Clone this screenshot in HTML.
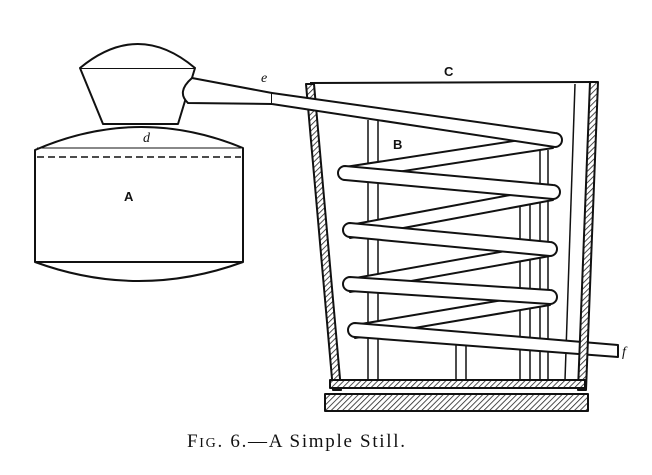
<!DOCTYPE html>
<html><head><style>
html,body{margin:0;padding:0;background:#fff;}
svg{display:block;}
</style></head><body>
<svg width="652" height="475" viewBox="0 0 652 475" xmlns="http://www.w3.org/2000/svg">
<defs>
<pattern id="h" width="4" height="4" patternUnits="userSpaceOnUse" patternTransform="rotate(45)">
<rect width="4" height="4" fill="#fff"/><line x1="0" y1="0" x2="0" y2="4" stroke="#222" stroke-width="1.6"/>
</pattern>
</defs>
<g fill="none" stroke="#111" stroke-width="2" stroke-linejoin="round">
<path d="M35,150 Q139,105 243,148 L243,262 Q139,300 35,262 Z" fill="#fff"/>
<line x1="35" y1="262" x2="243" y2="262"/>
<line x1="37" y1="157" x2="241" y2="157" stroke-dasharray="7,4" stroke-width="1.6"/>
<line x1="37" y1="148" x2="241" y2="148" stroke-width="1"/>
<path d="M80,68 L195,68 L178,124 L103,124 Z" fill="#fff"/>
<path d="M80,68 Q138,20 195,68" fill="#fff"/>
<path d="M192,78 L272,93 L272,104 L188,103 Q176,92 192,78 Z" fill="#fff"/>
<line x1="310" y1="83" x2="594" y2="82"/>
<line x1="575" y1="84" x2="565" y2="380" stroke-width="1.5"/>
<g stroke-width="1.5">
<line x1="368" y1="120" x2="368" y2="380"/><line x1="378" y1="120" x2="378" y2="380"/>
<line x1="456" y1="345" x2="456" y2="380"/><line x1="466" y1="345" x2="466" y2="380"/>
<line x1="520" y1="200" x2="520" y2="380"/><line x1="530" y1="200" x2="530" y2="380"/>
<line x1="540" y1="150" x2="540" y2="380"/><line x1="548" y1="150" x2="548" y2="380"/>
</g>
<g fill="#fff">
<path d="M553,135 L345,167 L345,180 L553,148 Z"/>
<path d="M553,187 L350,225 L350,238 L553,200 Z"/>
<path d="M550,243 L350,279 L350,292 L550,256 Z"/>
<path d="M550,292 L355,325 L355,338 L550,305 Z"/>
</g>
<g fill="#fff">
<path d="M345,166 L553,185 A7,7 0 0 1 553,199 L345,180 A7,7 0 0 1 345,166 Z"/>
<path d="M350,223 L550,242 A7,7 0 0 1 550,256 L350,237 A7,7 0 0 1 350,223 Z"/>
<path d="M350,277 L550,290 A7,7 0 0 1 550,304 L350,291 A7,7 0 0 1 350,277 Z"/>
<path d="M355,323 L618,345 L618,357 L355,337 A7,7 0 0 1 355,323 Z"/>
</g>
<path d="M306,84 L314,84 L341,390 L333,390 Z" fill="url(#h)"/>
<path d="M590,82 L598,82 L586,390 L578,390 Z" fill="url(#h)"/>
<path d="M272,93 L555,133 A7,7 0 0 1 555,147 L272,104" fill="#fff"/>
<rect x="330" y="380" width="255" height="8" fill="url(#h)"/>
<rect x="325" y="394" width="263" height="17" fill="url(#h)"/>
</g>
<g style="font-family:'Liberation Sans',sans-serif;font-weight:bold;font-size:13px" fill="#111">
<text x="124" y="201">A</text>
<text x="393" y="149">B</text>
<text x="444" y="76">C</text>
</g>
<g style="font-family:'Liberation Serif',serif;font-style:italic;font-size:14px" fill="#111">
<text x="143" y="142">d</text>
<text x="261" y="82">e</text>
<text x="622" y="356">f</text>
</g>
<text x="187" y="447" textLength="218" style="font-family:'Liberation Serif',serif;font-size:19px" fill="#111">F<tspan style="font-size:14px">IG</tspan>. 6.—A Simple Still.</text>
</svg>
</body></html>
